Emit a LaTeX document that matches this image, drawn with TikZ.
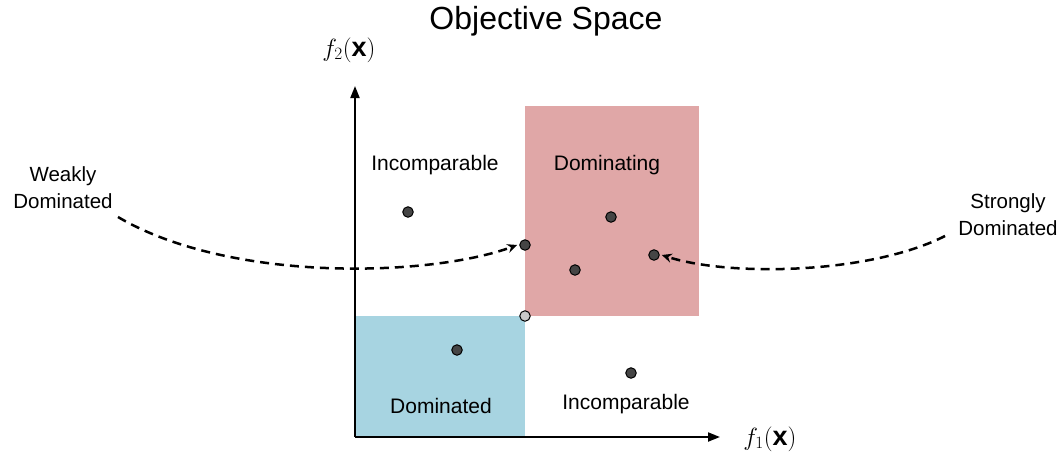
\documentclass[tikz,border=0pt]{standalone}
\usepackage{fontspec}
\setmainfont{Liberation Sans}
\usetikzlibrary{arrows.meta}
\definecolor{domblue}{HTML}{A7D4E1}
\definecolor{domred}{HTML}{E0A7A7}
\definecolor{ptdark}{HTML}{454545}
\definecolor{ptlight}{HTML}{C8C8C8}
\tikzset{
  lbl/.style={font=\fontsize{21}{25}\selectfont, align=center, inner sep=0pt},
  side/.style={lbl, font=\fontsize{20.5}{27}\selectfont},
  mlbl/.style={font=\fontsize{27}{32}\selectfont, inner sep=0pt},
  pt/.style={circle, draw=black, line width=1pt, fill=ptdark, minimum size=10.5pt, inner sep=0pt},
  ptl/.style={pt, fill=ptlight},
  axis/.style={line width=2pt, -{Triangle[length=12pt,width=9pt]}},
  dashc/.style={line width=2.5pt, dash pattern=on 9pt off 6pt, -{Stealth[length=10pt,width=9pt]}},
}
\begin{document}
\begin{tikzpicture}[x=1pt,y=-1pt]
\useasboundingbox (0,0) rectangle (1064,453);
% regions
\fill[domblue] (355,316) rectangle (525,437);
\fill[domred] (525,106) rectangle (699,316);
% axes
\coordinate (O) at (355,437);
\coordinate (Ytop) at (355,86);
\coordinate (Xend) at (720,437);
\draw[axis] (O) -- (Ytop);
\draw[axis] (O) -- (Xend);
\node[mlbl] (f2) at (349,50) {$f_2(\mathbf{x})$};
\node[mlbl] (f1) at (770,439) {$f_1(\mathbf{x})$};
\node[font=\fontsize{32}{38}\selectfont, inner sep=0pt] (title) at (546,21) {Objective Space};
% labels
\node[lbl] (inc1) at (435,165) {Incomparable};
\node[lbl] (domg) at (607,165) {Dominating};
\node[lbl] (domd) at (441,406) {Dominated};
\node[lbl] (inc2) at (626,404) {Incomparable};
\node[side] (weak) at (63,188) {Weakly\\Dominated};
\node[side] (strong) at (1008,215) {Strongly\\Dominated};
% points
\node[pt] (p1) at (408,212) {};
\node[pt] (p2) at (611,217) {};
\node[pt] (pw) at (525,245) {};
\node[pt] (ps) at (654,255) {};
\node[pt] (p5) at (575,270) {};
\node[ptl] (pc) at (525,316) {};
\node[pt] (p7) at (457,350) {};
\node[pt] (p8) at (631,373) {};
% dashed connectors
\coordinate (ws) at (118,217);
\coordinate (ss) at (945,236);
\draw[dashc] (ws) .. controls (230,283) and (430,277) .. ([xshift=-2pt]pw.west);
\draw[dashc] (ss) .. controls (870,274) and (730,277) .. ([xshift=2pt]ps.east);
\end{tikzpicture}
\end{document}
